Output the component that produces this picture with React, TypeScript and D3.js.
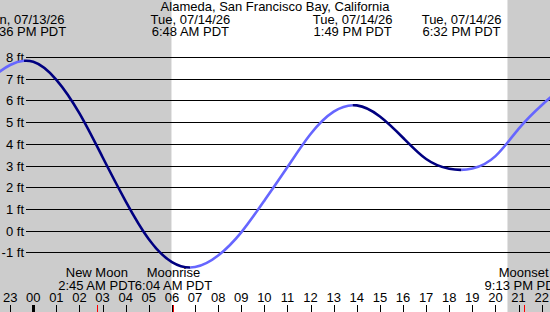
import React, { useEffect, useRef } from 'react';
import * as d3 from 'd3';

// hours are counted from midnight, Tue 07/14/26
const hourTimes = [-2, -1, 0, 1, 2, 3, 4, 5, 6, 7, 8, 9, 10, 11, 12, 13, 14, 15, 16, 17, 18, 19, 20, 21, 22, 23];
const hourHeights = [6.9, 7.63, 7.78, 6.95, 5.4, 3.38, 1.35, -0.4, -1.45, -1.68, -1.15, -0.08, 1.38, 2.93, 4.45, 5.48, 5.77, 5.26, 4.28, 3.3, 2.85, 2.86, 3.43, 4.69, 5.78, 6.7];

const extremeTimes = [-0.4, 6.8, 13.817, 18.533];
const extremeHeights = [7.83, -1.7, 5.77, 2.79];
const extremeDates = ['Sun, 07/13/26', 'Tue, 07/14/26', 'Tue, 07/14/26', 'Tue, 07/14/26'];
const extremeLabels = ['11:36 PM PDT', '6:48 AM PDT', '1:49 PM PDT', '6:32 PM PDT'];

const moonNames = ['New Moon', 'Moonrise', 'Moonset'];
const moonTimes = [2.75, 6.067, 21.217];
const moonLabels = ['2:45 AM PDT', '6:04 AM PDT', '9:13 PM PDT'];

const sunrise = 5.98;
const sunset = 20.52;

const tickHours = d3.range(-1, 23);
const feetTicks = [-1, 0, 1, 2, 3, 4, 5, 6, 7, 8];

const title = 'Alameda, San Francisco Bay, California';

function TideChart() {
  const ref = useRef(null);

  useEffect(() => {
    const svg = d3.select(ref.current);
    svg.selectAll('*').remove();

    const width = 550;
    const height = 312;
    const font = '"Liberation Sans", Arial, sans-serif';
    const fs = '13px';

    const x = d3.scaleLinear().domain([-1.44, 22.36]).range([0, width]);
    const y = d3.scaleLinear().domain([-1, 8]).range([252.3, 57]);

    svg.append('rect').attr('width', width).attr('height', height).attr('fill', '#fff');

    // night shading
    svg.append('rect')
      .attr('x', 0).attr('y', 0)
      .attr('width', x(sunrise)).attr('height', height)
      .attr('fill', '#cccccc');
    svg.append('rect')
      .attr('x', x(sunset)).attr('y', 0)
      .attr('width', width - x(sunset)).attr('height', height)
      .attr('fill', '#cccccc');

    // horizontal grid + labels
    const grid = svg.append('g');
    grid.selectAll('line')
      .data(feetTicks)
      .join('line')
      .attr('x1', 26).attr('x2', width)
      .attr('y1', d => Math.round(y(d)) + 0.5)
      .attr('y2', d => Math.round(y(d)) + 0.5)
      .attr('stroke', '#000').attr('stroke-width', 1);
    grid.selectAll('text')
      .data(feetTicks)
      .join('text')
      .attr('x', 24)
      .attr('y', d => Math.round(y(d)) + 4.5)
      .attr('text-anchor', 'end')
      .style('font-family', font).style('font-size', fs)
      .text(d => `${d} ft`);

    // tide curve: one smooth path, coloured rising / falling by clipping between highs and lows
    const pts = hourTimes.map((t, i) => [t, hourHeights[i]]);
    const line = d3.line().x(d => x(d[0])).y(d => y(d[1])).curve(d3.curveNatural);
    const path = line(pts);

    const breaks = [hourTimes[0], ...extremeTimes, hourTimes[hourTimes.length - 1]];
    const levels = [hourHeights[0], ...extremeHeights, hourHeights[hourHeights.length - 1]];
    const defs = svg.append('defs');
    for (let i = 0; i < breaks.length - 1; i++) {
      const x0 = Math.max(0, x(breaks[i]));
      const x1 = Math.min(width, x(breaks[i + 1]));
      defs.append('clipPath').attr('id', `seg${i}`)
        .append('rect').attr('x', x0).attr('y', 0)
        .attr('width', Math.max(0, x1 - x0)).attr('height', height);
    }
    for (let i = 0; i < breaks.length - 1; i++) {
      const falling = levels[i + 1] < levels[i];
      svg.append('path')
        .attr('d', path)
        .attr('clip-path', `url(#seg${i})`)
        .attr('fill', 'none')
        .attr('stroke', falling ? '#000080' : '#6666ff')
        .attr('stroke-width', 2.6);
    }

    // title
    svg.append('text')
      .attr('x', width / 2).attr('y', 11)
      .attr('text-anchor', 'middle')
      .style('font-family', font).style('font-size', fs)
      .text(title);

    // high / low labels
    const ext = svg.append('g')
      .style('font-family', font).style('font-size', fs)
      .attr('text-anchor', 'middle');
    extremeTimes.forEach((t, i) => {
      ext.append('text').attr('x', x(t)).attr('y', 24).text(extremeDates[i]);
      ext.append('text').attr('x', x(t)).attr('y', 36).text(extremeLabels[i]);
    });

    // moon labels
    const moon = svg.append('g')
      .style('font-family', font).style('font-size', fs)
      .attr('text-anchor', 'middle');
    moonTimes.forEach((t, i) => {
      moon.append('text').attr('x', x(t)).attr('y', 277).text(moonNames[i]);
      moon.append('text').attr('x', x(t)).attr('y', 290).text(moonLabels[i]);
    });

    // hour axis
    const axis = svg.append('g');
    axis.selectAll('text')
      .data(tickHours)
      .join('text')
      .attr('x', d => x(d))
      .attr('y', 302)
      .attr('text-anchor', 'middle')
      .style('font-family', font).style('font-size', fs)
      .text(d => d3.format('02')((d + 24) % 24));
    axis.selectAll('line')
      .data(tickHours)
      .join('line')
      .attr('x1', d => Math.round(x(d)) + 0.5)
      .attr('x2', d => Math.round(x(d)) + 0.5)
      .attr('y1', 305).attr('y2', height)
      .attr('stroke', '#000')
      .attr('stroke-width', d => (d === 0 ? 3 : 1));
    svg.append('g').selectAll('line')
      .data(moonTimes)
      .join('line')
      .attr('x1', d => Math.round(x(d)) + 0.5)
      .attr('x2', d => Math.round(x(d)) + 0.5)
      .attr('y1', 305).attr('y2', height)
      .attr('stroke', '#ff0000').attr('stroke-width', 1);
  }, []);

  return (
    <svg ref={ref} width={550} height={312}
      style={{ position: 'absolute', left: 0, top: 0, display: 'block' }} />
  );
}

export default function App() {
  return <TideChart />;
}
